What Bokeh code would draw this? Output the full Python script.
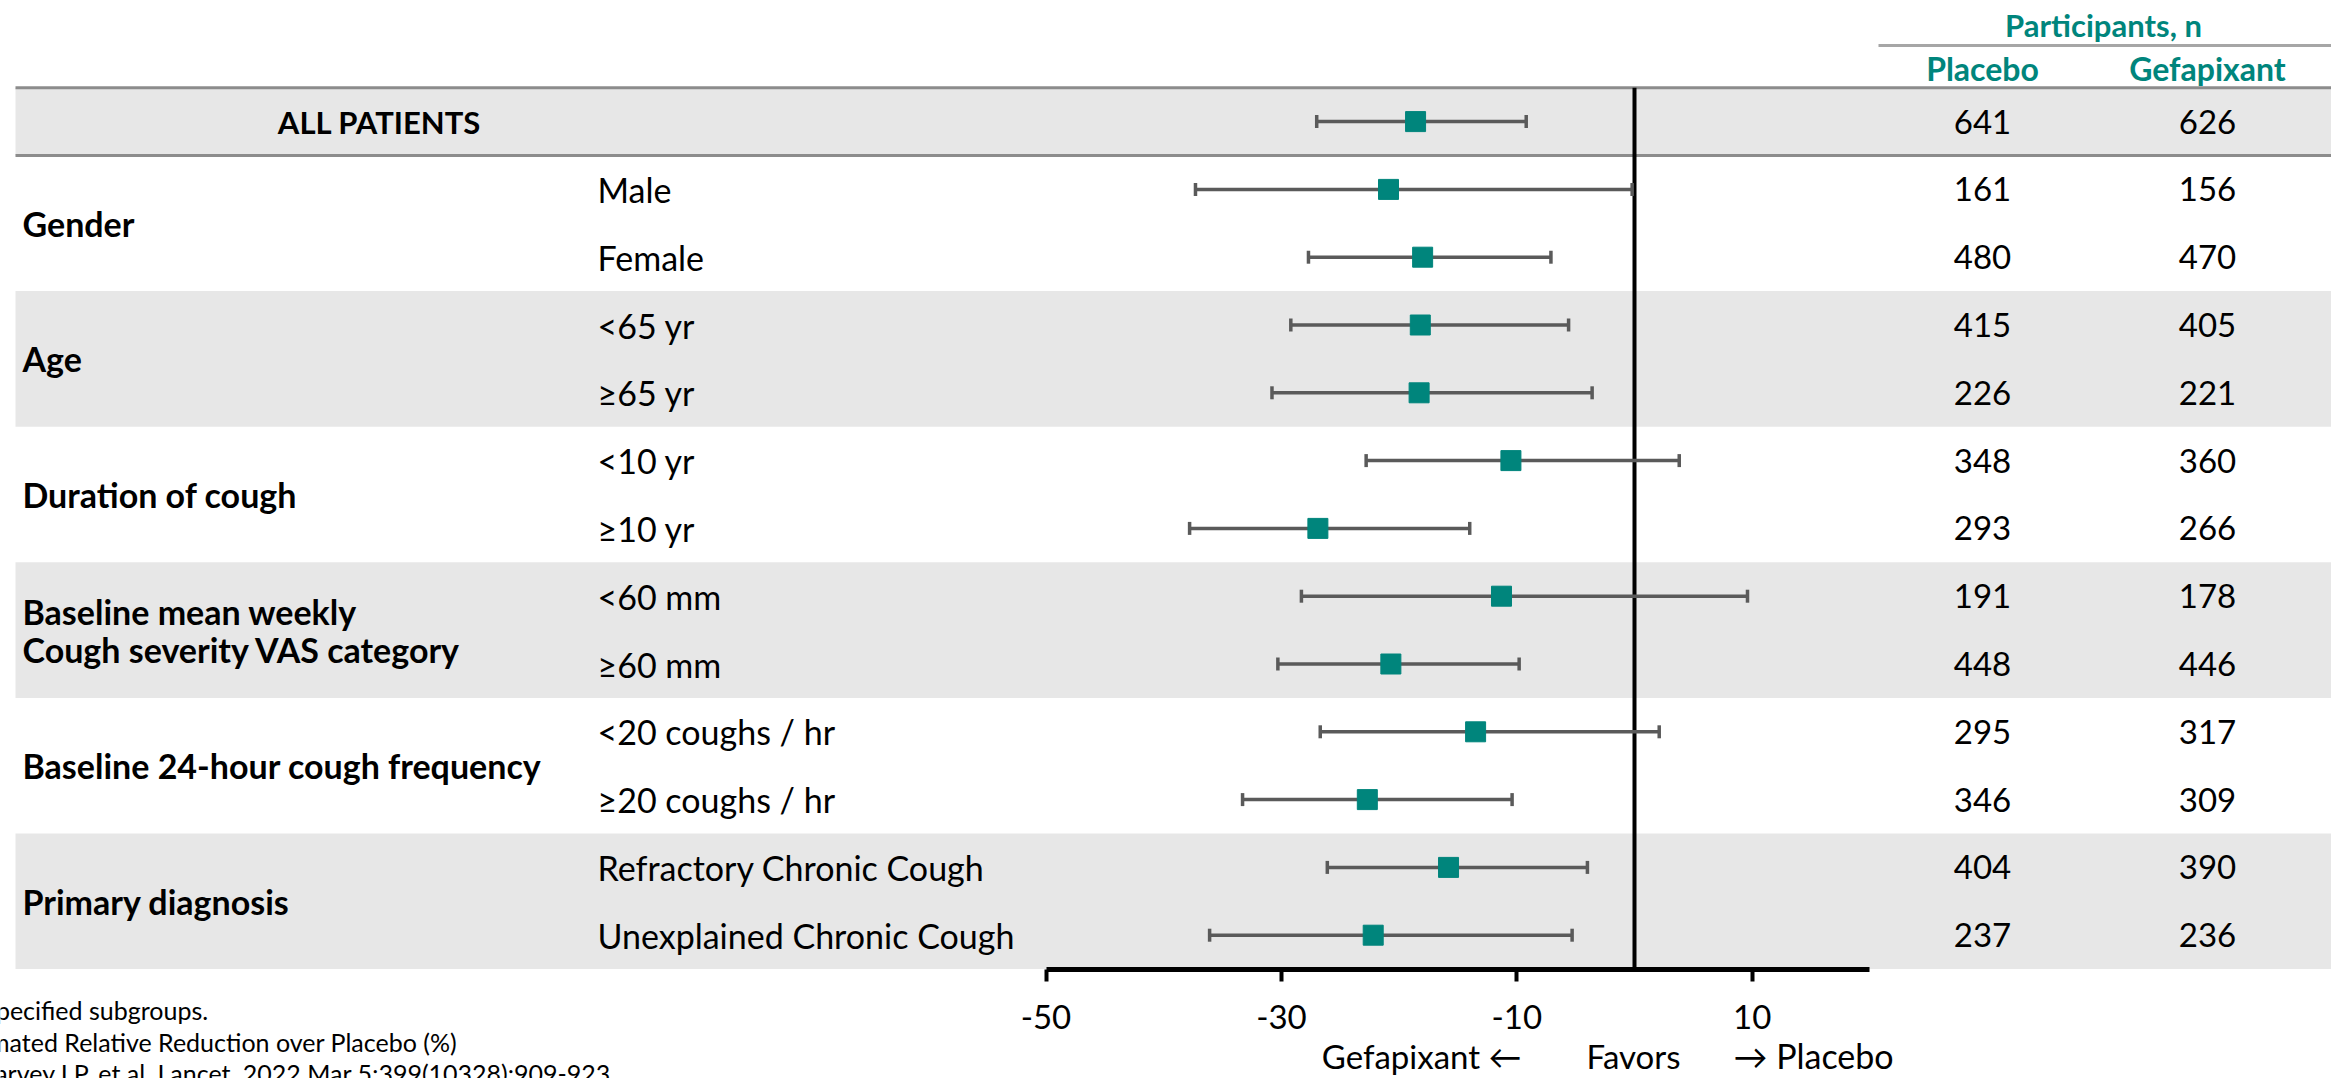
import math
from bokeh.plotting import figure
from bokeh.models import Range1d, LinearAxis, FixedTicker, ColumnDataSource
from bokeh.core.properties import value
from bokeh.embed import file_html
from bokeh.resources import INLINE

# ---------------- data ----------------
overall_label = "ALL PATIENTS"
groups = ["Gender", "Age", "Duration of cough",
          "Baseline mean weekly\nCough severity VAS category",
          "Baseline 24-hour cough frequency", "Primary diagnosis"]
subgroups = ["Male", "Female", "<65 yr", "≥65 yr", "<10 yr", "≥10 yr",
             "<60 mm", "≥60 mm", "<20 coughs / hr", "≥20 coughs / hr",
             "Refractory Chronic Cough", "Unexplained Chronic Cough"]
# first entry = all patients, then subgroups in order
estimate = [-18.6, -20.9, -18.0, -18.2, -18.3, -10.5, -26.9, -11.3, -20.7, -13.5, -22.7, -15.8, -22.2]
ci_lower = [-27.0, -37.3, -27.7, -29.2, -30.8, -22.8, -37.8, -28.3, -30.3, -26.7, -33.3, -26.1, -36.1]
ci_upper = [-9.2, -0.2, -7.1, -5.6, -3.6, 3.8, -14.0, 9.6, -9.8, 2.1, -10.4, -4.0, -5.3]
n_placebo = [641, 161, 480, 415, 226, 348, 293, 191, 448, 295, 346, 404, 237]
n_gefapixant = [626, 156, 470, 405, 221, 360, 266, 178, 446, 317, 309, 390, 236]
tick_values = [-50, -30, -10, 10]
tick_labels = ["-50", "-30", "-10", "10"]
axis_bounds = (-50, 20)
footnotes = ["Prespecified subgroups.",
             "Estimated Relative Reduction over Placebo (%)",
             "McGarvey LP, et al. Lancet. 2022 Mar 5;399(10328):909-923."]

# ---------------- layout helpers (pixel -> data) ----------------
W, H = 2331, 1078
X0_PX, PX_PER_X = 1634.0, 11.77
ROW0_PX, ROW_PX = 121.1, 67.8

def X(px):
    return (px - X0_PX) / PX_PER_X

def Y(px):
    return (px - ROW0_PX) / ROW_PX

TEAL = "#00857C"
GREY_BAND = "#E7E7E7"
FONT_NAME = "Lato"
FONT = value(FONT_NAME)

p = figure(width=W, height=H, output_backend="svg", toolbar_location=None,
           x_range=Range1d(X(0), X(W)), y_range=Range1d(Y(H), Y(0)),
           x_axis_type=None, y_axis_type=None, min_border=0,
           outline_line_color=None, background_fill_color="white",
           border_fill_color="white")

n_rows = 1 + len(subgroups)
rows = list(range(n_rows))
per_group = len(subgroups) // len(groups)

# background bands: all patients row + alternating groups
band_top, band_bot = [-0.5], [0.5]
for gi in range(len(groups)):
    if gi % 2 == 1:
        band_top.append(0.5 + gi * per_group)
        band_bot.append(0.5 + (gi + 1) * per_group)
p.quad(left=X(15), right=X(W) + 2, top=band_top, bottom=band_bot,
       fill_color=GREY_BAND, line_color=None)

# separator lines
p.segment(x0=[X(15)] * 2, x1=[X(W) + 2] * 2, y0=[-0.5, 0.5], y1=[-0.5, 0.5],
          line_color="#8C8C8C", line_width=3)
p.segment(x0=[X(1878)], x1=[X(W) + 2], y0=[Y(45)], y1=[Y(45)],
          line_color="#A6A6A6", line_width=3)

# reference line at 0
p.segment(x0=[0], x1=[0], y0=[-0.5], y1=[n_rows - 0.5], line_color="black", line_width=4)

src = ColumnDataSource(dict(y=rows, est=estimate, lo=ci_lower, hi=ci_upper,
                            npl=[str(v) for v in n_placebo],
                            nge=[str(v) for v in n_gefapixant]))
p.segment(x0="lo", x1="hi", y0="y", y1="y", source=src, line_color="#5A5A5A", line_width=3.5)
for col in ("lo", "hi"):
    p.scatter(x=col, y="y", source=src, marker="dash", angle=math.pi / 2, size=13,
              line_color="#5A5A5A", line_width=3.5)
p.scatter(x="est", y="y", source=src, marker="square", size=20,
          fill_color=TEAL, line_color=TEAL)

# axis
ax = LinearAxis(fixed_location=n_rows - 0.5, bounds=axis_bounds,
                ticker=FixedTicker(ticks=tick_values),
                major_label_overrides={t: l for t, l in zip(tick_values, tick_labels)},
                axis_line_width=5, axis_line_color="black",
                major_tick_line_width=4, major_tick_line_color="black",
                major_tick_in=0, major_tick_out=12,
                minor_tick_line_color=None,
                major_label_text_font=FONT_NAME, major_label_text_font_size="33px",
                major_label_text_color="black", major_label_standoff=24)
p.add_layout(ax, "below")

# texts
p.text(x=[X(379)], y=[0], text=[overall_label], text_font=FONT, text_font_size="31px",
       text_font_style="bold", text_align="center", text_baseline="middle", text_color="black")
gy = [0.5 + per_group * gi + per_group / 2.0 for gi in range(len(groups))]
p.text(x=[X(22)] * len(groups), y=gy, text=groups, text_font=FONT, text_font_size="34px",
       text_font_style="bold", text_align="left", text_baseline="middle",
       text_color="black", text_line_height=0.93)
p.text(x=[X(597)] * len(subgroups), y=rows[1:], text=subgroups, text_font=FONT,
       text_font_size="34px", text_align="left", text_baseline="middle", text_color="black")
p.text(x=X(1982), y="y", text="npl", source=src, text_font=FONT, text_font_size="33px",
       text_align="center", text_baseline="middle", text_color="black")
p.text(x=X(2207), y="y", text="nge", source=src, text_font=FONT, text_font_size="33px",
       text_align="center", text_baseline="middle", text_color="black")

# header
p.text(x=[X(2103)], y=[Y(24)], text=["Participants, n"], text_font=FONT, text_font_size="31px",
       text_font_style="bold", text_align="center", text_baseline="middle", text_color=TEAL)
p.text(x=[X(1982), X(2207)], y=[Y(68)] * 2, text=["Placebo", "Gefapixant"], text_font=FONT,
       text_font_size="32px", text_font_style="bold", text_align="center",
       text_baseline="middle", text_color=TEAL)

# favors line
FAV_Y = Y(1055)
p.text(x=[X(1521)], y=[FAV_Y], text=["Gefapixant ←"], text_font=FONT, text_font_size="33px",
       text_align="right", text_baseline="middle", text_color="black")
p.text(x=[X(1633)], y=[FAV_Y], text=["Favors"], text_font=FONT, text_font_size="33px",
       text_align="center", text_baseline="middle", text_color="black")
p.text(x=[X(1733)], y=[FAV_Y], text=["→ Placebo"], text_font=FONT, text_font_size="34px",
       text_align="left", text_baseline="middle", text_color="black")

# footnotes (cut at the left edge as in the source slide)
p.text(x=[X(0)] * 3, y=[Y(1009), Y(1041), Y(1072)], text=footnotes, text_font=FONT,
       text_font_size="25px", text_align="left", text_baseline="middle", text_color="black",
       x_offset=[-52, -52, -58])

open("out.html", "w").write(file_html(p, INLINE))
